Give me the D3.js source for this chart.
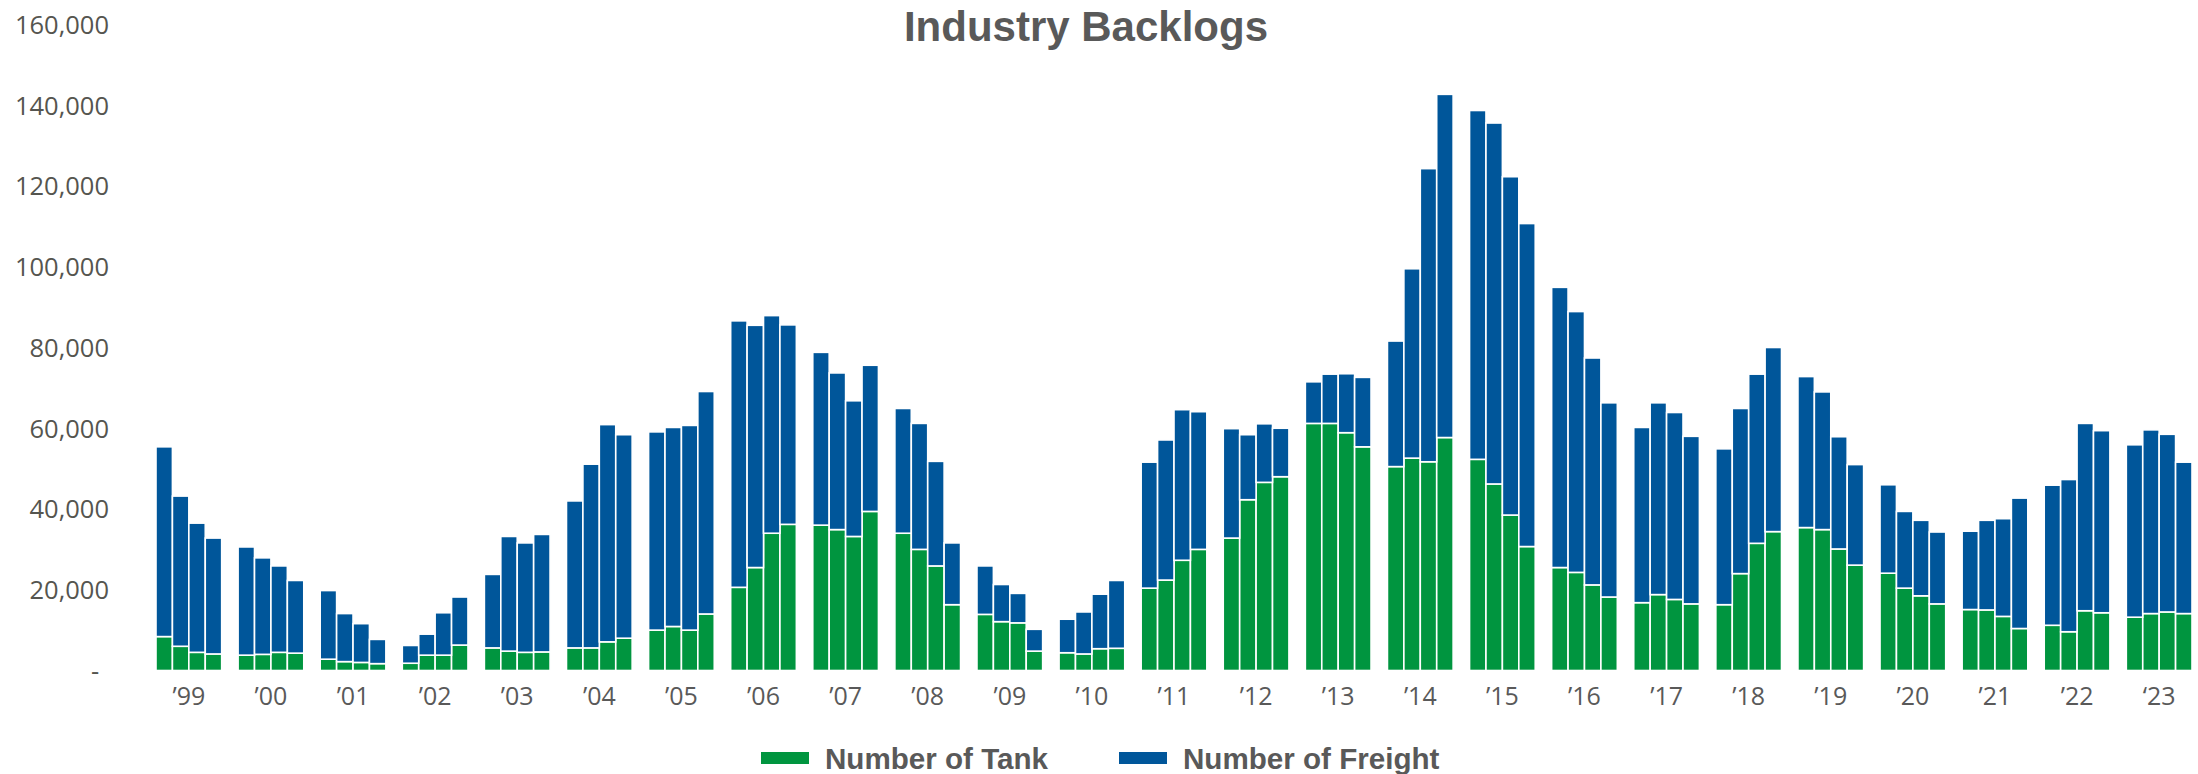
<!DOCTYPE html>
<html>
<head>
<meta charset="utf-8">
<script src="https://cdn.jsdelivr.net/npm/d3@7"></script>
<style>
  html, body { margin: 0; padding: 0; background: #ffffff; }
  svg { display: block; }
</style>
</head>
<body>
<svg id="chart" width="2198" height="774"></svg>
<script>
// ---- Data ----
const years = ["\u201999","\u201900","\u201901","\u201902","\u201903","\u201904","\u201905","\u201906","\u201907","\u201908","\u201909","\u201910","\u201911","\u201912","\u201913","\u201914","\u201915","\u201916","\u201917","\u201918","\u201919","\u201920","\u201921","\u201922","\u201823"];
const quarters = ["Q1","Q2","Q3","Q4"];

const tank = [
  8400, 6000, 4500, 4100,
  3800, 4000, 4500, 4300,
  2800, 2200, 2000, 1700,
  1800, 3800, 3800, 6300,
  5600, 4800, 4500, 4600,
  5600, 5600, 7100, 8000,
  10000, 10900, 10000, 14000,
  20600, 25500, 34000, 36200,
  36000, 34900, 33200, 39400,
  34000, 30000, 25900, 16300,
  13900, 12100, 11800, 4800,
  4400, 4100, 5400, 5500,
  20400, 22400, 27300, 30000,
  32800, 42300, 46600, 48000,
  61200, 61200, 58900, 55400,
  50500, 52600, 51700, 57700,
  52300, 46200, 38500, 30700,
  25500, 24300, 21200, 18200,
  16800, 18800, 17600, 16500,
  16300, 24000, 31500, 34400,
  35400, 34900, 30100, 26100,
  24100, 20400, 18500, 16500,
  15100, 15000, 13400, 10400,
  11200, 9600, 14800, 14300,
  13200, 14100, 14500, 14100
];

const freight = [
  47000, 37200, 32000, 28700,
  26800, 23900, 21400, 18000,
  17000, 11900, 9600, 6000,
  4400, 5200, 10500, 11900,
  18200, 28400, 27100, 29100,
  36400, 45500, 53800, 50400,
  49100, 49300, 50700, 55100,
  66000, 60000, 53900, 49400,
  42800, 38800, 33600, 36200,
  30900, 31200, 25900, 15300,
  12000, 9200, 7300, 5400,
  8300, 10400, 13500, 16800,
  31200, 34700, 37300, 34100,
  27100, 16100, 14500, 12000,
  10300, 12200, 14600, 17200,
  31100, 46900, 72600, 85000,
  86400, 89400, 83800, 80000,
  69400, 64600, 56200, 48100,
  43400, 47500, 46300, 41500,
  38600, 40900, 41900, 45600,
  37400, 34100, 27800, 24900,
  21900, 19000, 18700, 17800,
  19400, 22200, 24200, 32300,
  34700, 37700, 46400, 45100,
  42700, 45500, 44000, 37500
];

const yTicks = [0, 20000, 40000, 60000, 80000, 100000, 120000, 140000, 160000];
const seriesNames = ["Number of Tank", "Number of Freight"];
const seriesColors = ["#00953f", "#00569a"];
const chartTitle = "Industry Backlogs";

// ---- Build table ----
const rows = [];
years.forEach((yr, i) => {
  quarters.forEach((q, j) => {
    const k = i * 4 + j;
    rows.push({ year: yr, quarter: q, tank: tank[k], freight: freight[k] });
  });
});

const stack = d3.stack().keys(["tank", "freight"]);
const stacked = stack(rows);

// ---- Scales ----
const svg = d3.select("#chart");

const x0 = d3.scaleBand().domain(years).range([156, 2192]).paddingInner(0.2).paddingOuter(0);
const x1 = d3.scaleBand().domain(quarters).range([0, x0.bandwidth()]).padding(0);
const y = d3.scaleLinear().domain([0, 160000]).range([670.5, 24.5]);
const color = d3.scaleOrdinal().domain(["tank", "freight"]).range(seriesColors);

// ---- Bars ----
const layers = svg.append("g").selectAll("g")
  .data(stacked)
  .join("g")
  .attr("fill", d => color(d.key));

layers.selectAll("rect")
  .data(d => d)
  .join("rect")
  .attr("x", d => x0(d.data.year) + x1(d.data.quarter))
  .attr("width", x1.bandwidth())
  .attr("y", d => y(d[1]))
  .attr("height", d => y(d[0]) - y(d[1]))
  .attr("stroke", "#ffffff")
  .attr("stroke-width", 1.6);

// ---- Y axis ----
const yAxis = d3.axisLeft(y)
  .tickValues(yTicks)
  .tickSize(0)
  .tickPadding(0)
  .tickFormat(v => v === 0 ? "-" : d3.format(",")(v));

const yg = svg.append("g").attr("transform", "translate(109,0)").call(yAxis);
yg.select(".domain").remove();
yg.selectAll("text")
  .attr("font-family", "'Open Sans', 'Noto Sans', sans-serif")
  .attr("font-size", 25.5)
  .attr("fill", "#55554f")
  .attr("dy", "0.35em")
  .attr("text-anchor", d => d === 0 ? "middle" : "end")
  .attr("x", d => d === 0 ? -14 : 0);

// ---- X axis ----
const xAxis = d3.axisBottom(x0).tickSize(0).tickPadding(0);
const xg = svg.append("g").attr("transform", "translate(0,696)").call(xAxis);
xg.select(".domain").remove();
xg.selectAll("text")
  .attr("font-family", "'Open Sans', 'Noto Sans', sans-serif")
  .attr("font-size", 25)
  .attr("fill", "#595959")
  .attr("dy", "0.35em")
  .attr("y", 0);

// ---- Title ----
svg.append("text")
  .attr("x", 1086)
  .attr("y", 41)
  .attr("text-anchor", "middle")
  .attr("font-family", "'Liberation Sans', Arial, sans-serif")
  .attr("font-weight", "bold")
  .attr("font-size", 42)
  .attr("fill", "#595959")
  .text(chartTitle);

// ---- Legend ----
const legendItems = [
  { name: seriesNames[0], color: seriesColors[0], x: 761 },
  { name: seriesNames[1], color: seriesColors[1], x: 1119 }
];
const lg = svg.append("g");
legendItems.forEach(it => {
  lg.append("rect")
    .attr("x", it.x).attr("y", 752)
    .attr("width", 48).attr("height", 12)
    .attr("fill", it.color);
  lg.append("text")
    .attr("x", it.x + 64).attr("y", 769)
    .attr("font-family", "'Liberation Sans', Arial, sans-serif")
    .attr("font-weight", "bold")
    .attr("font-size", 29.6)
    .attr("fill", "#595959")
    .text(it.name);
});
</script>
</body>
</html>
